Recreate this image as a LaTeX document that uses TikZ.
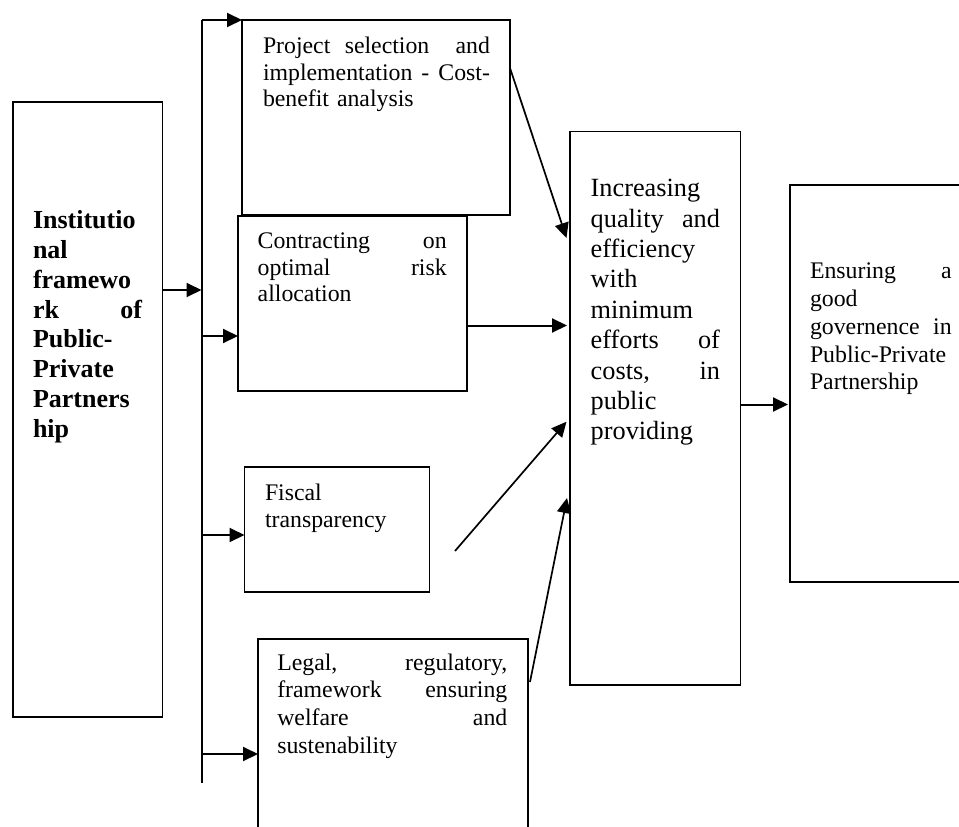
\documentclass[tikz,border=0pt]{standalone}
\usepackage{fontspec}
\setmainfont{Liberation Serif}
\usetikzlibrary{arrows.meta}
\setlength\parindent{0pt}
\setlength\parskip{0pt}
\newcommand\jl[1]{\leavevmode\hbox to \hsize{#1}}
\newcommand\tstr{\leavevmode\rule{0pt}{0.75em}}
\begin{document}
\begin{tikzpicture}[x=1pt,y=-1pt,
  box/.style={draw, line width=1.3pt, inner sep=0pt, outer sep=0pt, anchor=north west},
  txt/.style={anchor=north west, inner sep=0pt, outer sep=0pt, align=left},
  reg/.style={font=\fontsize{23.8pt}{#1}\selectfont},
  arr/.style={line width=2pt, -{Triangle[length=15pt,width=14pt]}},
  busline/.style={line width=2pt}]
\useasboundingbox (0,0) rectangle (959,827);
\fill[white] (0,0) rectangle (959,827);
\clip (0,0) rectangle (959,827);

% boxes
\node[box, minimum width=149.5pt, minimum height=615pt] (inst) at (13,102) {};
\node[box, minimum width=268pt, minimum height=195pt] (proj) at (242,20) {};
\node[box, minimum width=229pt, minimum height=175pt] (contr) at (238,216) {};
\node[box, minimum width=185pt, minimum height=125pt] (fisc) at (244.5,467) {};
\node[box, minimum width=270pt, minimum height=200pt] (legal) at (258,639) {};
\node[box, minimum width=170.5pt, minimum height=553.5pt] (incr) at (570,131.5) {};
\node[box, minimum width=180pt, minimum height=397pt] (ens) at (790,185) {};

% texts
\node[txt, text width=109pt, font=\fontsize{26pt}{29.9pt}\selectfont\bfseries] (instT) at (33,208.8)
  {\tstr Institutio\\nal\\framewo\\\jl{rk \hfill of}\\Public-\\Private\\Partners\\hip};
\node[txt, text width=227pt, reg=26.7pt] (projT) at (263,35.45)
  {\tstr\jl{Project \hfill selection\hspace{0.5em} \hfill and}\\\jl{implementation \hfill - \hfill Cost-}\\benefit analysis};
\node[txt, text width=189pt, reg=26.7pt] (contrT) at (257.7,230.45)
  {\tstr\jl{Contracting \hfill on}\\\jl{optimal \hfill risk}\\allocation};
\node[txt, text width=150pt, reg=27.3pt] (fiscT) at (265,482.15)
  {\tstr Fiscal\\transparency};
\node[txt, text width=230pt, reg=27.8pt] (legalT) at (277.3,652.15)
  {\tstr\jl{Legal, \hfill regulatory,}\\\jl{framework \hfill ensuring}\\\jl{welfare \hfill and}\\sustenability};
\node[txt, text width=129.3pt, font=\fontsize{26.3pt}{30.4pt}\selectfont] (incrT) at (590.7,177)
  {\tstr Increasing\\\jl{quality \hfill and}\\efficiency\\with\\minimum\\\jl{efforts \hfill of}\\\jl{costs, \hfill in}\\public\\providing};
\node[txt, text width=141.7pt, reg=27.9pt] (ensT) at (810,260.45)
  {\tstr\jl{Ensuring \hfill a}\\good\\\jl{governence \hfill in}\\Public-Private\\Partnership};

% bus
\coordinate (bt) at (201.5,20);
\coordinate (bb) at (201.5,783);
\coordinate (j1) at (201.5,290);
\coordinate (j2) at (201.5,336);
\coordinate (j3) at (201.5,535);
\coordinate (j4) at (201.5,754);
\draw[busline] (bt) -- (bb);
\draw[arr] (inst.east |- j1) -- (j1);
\draw[arr] (bt) -- (proj.north west);
\draw[arr] (j2) -- (contr.west |- j2);
\draw[arr] (j3) -- (fisc.west |- j3);
\draw[arr] (j4) -- (legal.west |- j4);

% to the central box
\coordinate (p0) at (510,68);
\coordinate (p1) at (566.5,238);
\coordinate (c0) at (467,325.5);
\coordinate (f0) at (455,551);
\coordinate (f1) at (566.5,421.7);
\coordinate (l0) at (530,682);
\coordinate (l1) at (567,498);
\coordinate (o0) at (740.5,404.5);
\draw[arr, line width=1.7pt] (proj.east |- p0) -- (p1);
\draw[arr] (contr.east |- c0) -- ([xshift=-3pt]incr.west |- c0);
\draw[arr, line width=1.7pt] (f0) -- (f1);
\draw[arr, line width=1.7pt] (l0) -- (l1);
\draw[arr] (incr.east |- o0) -- ([xshift=-2pt]ens.west |- o0);
\end{tikzpicture}
\end{document}
